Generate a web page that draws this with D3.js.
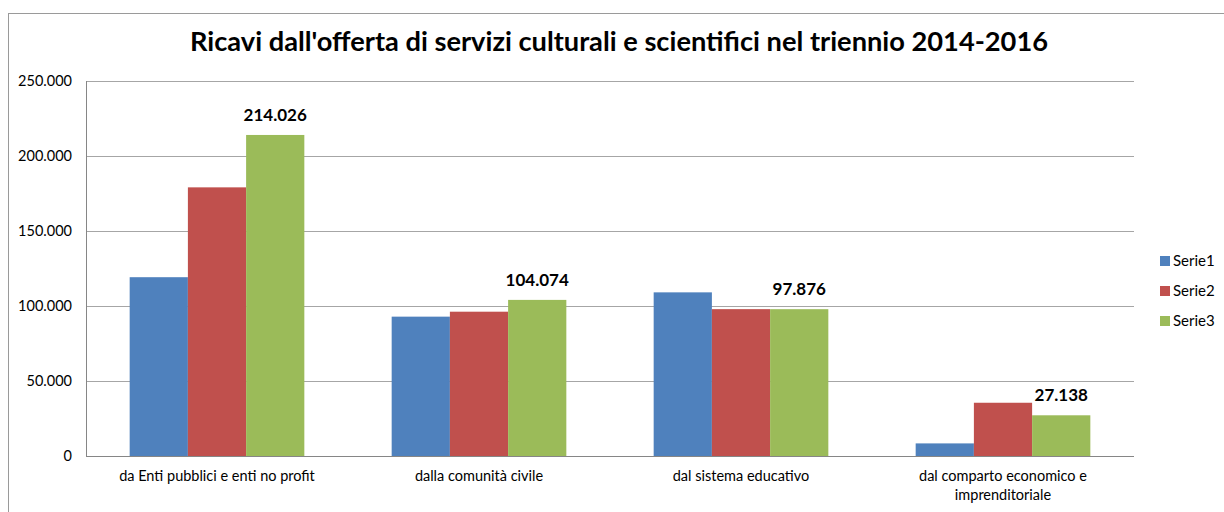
<!DOCTYPE html>
<html>
<head>
<meta charset="utf-8">
<script src="https://cdn.jsdelivr.net/npm/d3@7"></script>
<style>
  body { margin: 0; background: #fff; }
  svg text { font-family: Lato, 'Open Sans', sans-serif; fill: #000; }
</style>
</head>
<body>
<div id="canvas"></div>
<script>
const categories = ['da Enti pubblici e enti no profit', 'dalla comunità civile', 'dal sistema educativo', 'dal comparto economico e imprenditoriale'];
const seriesNames = ['Serie1', 'Serie2', 'Serie3'];
const serie1 = [119200, 92900, 109100, 8400];
const serie2 = [179100, 96200, 97900, 35500];
const serie3 = [214026, 104074, 97876, 27138];
const yTicks = [0, 50000, 100000, 150000, 200000, 250000];
const colors = ['#4F81BD', '#C0504D', '#9BBB59'];

const w = 1224, h = 512;
const margin = { left: 86, top: 81, right: 1134, bottom: 456 };
const fmt = d3.formatLocale({ decimal: ',', thousands: '.', grouping: [3], currency: ['', '€'] }).format(',d');

const svg = d3.select('#canvas').append('svg').attr('width', w).attr('height', h);

// cornice esterna
svg.append('rect')
  .attr('x', 8.5).attr('y', 13.5)
  .attr('width', w).attr('height', h)
  .attr('fill', 'none').attr('stroke', '#9a9a9a');

const x = d3.scaleBand().domain(categories).range([margin.left, margin.right]).padding(0);
// gap width 150% -> 0.75 bar each side
const xs = d3.scaleBand().domain(seriesNames).range([0, x.bandwidth()]).paddingInner(0).paddingOuter(0.75);
const y = d3.scaleLinear().domain([0, 250000]).range([margin.bottom, margin.top]);

// griglia
svg.append('g').selectAll('line').data(yTicks.slice(1)).enter().append('line')
  .attr('x1', margin.left).attr('x2', margin.right)
  .attr('y1', d => Math.round(y(d)) + 0.5).attr('y2', d => Math.round(y(d)) + 0.5)
  .attr('stroke', '#a6a6a6').attr('stroke-width', 1);

// etichette asse y
svg.append('g').selectAll('text').data(yTicks).enter().append('text')
  .attr('x', 72).attr('y', d => y(d) + 5)
  .attr('text-anchor', 'end').style('font-size', '14.5px')
  .text(d => fmt(d));

const data = categories.map((c, i) => ({ cat: c, vals: [serie1[i], serie2[i], serie3[i]] }));

const groups = svg.append('g').selectAll('g').data(data).enter().append('g')
  .attr('transform', d => 'translate(' + x(d.cat) + ',0)');

groups.selectAll('rect').data(d => d.vals.map((v, i) => ({ v: v, s: seriesNames[i], c: i })))
  .enter().append('rect')
  .attr('x', d => xs(d.s))
  .attr('y', d => y(d.v))
  .attr('width', xs.bandwidth())
  .attr('height', d => margin.bottom - y(d.v))
  .attr('fill', d => colors[d.c]);

// etichette dati su Serie3
groups.append('text')
  .attr('x', xs('Serie3') + xs.bandwidth() / 2)
  .attr('y', d => y(d.vals[2]) - 14)
  .attr('text-anchor', 'middle')
  .style('font-size', '17px').style('font-weight', 'bold')
  .text(d => fmt(d.vals[2]));

// assi
svg.append('line').attr('x1', margin.left + 0.5).attr('x2', margin.left + 0.5)
  .attr('y1', margin.top).attr('y2', margin.bottom + 0.5).attr('stroke', '#868686');
svg.append('line').attr('x1', margin.left).attr('x2', margin.right)
  .attr('y1', margin.bottom + 0.5).attr('y2', margin.bottom + 0.5).attr('stroke', '#868686');

// etichette asse x
const xLabelLines = [['da Enti pubblici e enti no profit'], ['dalla comunità civile'], ['dal sistema educativo'], ['dal comparto economico e', 'imprenditoriale']];
svg.append('g').selectAll('text').data(categories).enter().append('text')
  .attr('x', d => x(d) + x.bandwidth() / 2)
  .attr('y', 481)
  .attr('text-anchor', 'middle').style('font-size', '14.5px')
  .each(function(d, i) {
    d3.select(this).selectAll('tspan').data(xLabelLines[i]).enter().append('tspan')
      .attr('x', x(d) + x.bandwidth() / 2)
      .attr('dy', (t, j) => j === 0 ? 0 : 19)
      .text(t => t);
  });

// titolo
svg.append('text')
  .attr('x', 619).attr('y', 51)
  .attr('text-anchor', 'middle')
  .attr('textLength', 858).attr('lengthAdjust', 'spacingAndGlyphs')
  .style('font-size', '26px').style('font-weight', 'bold')
  .text("Ricavi dall'offerta di servizi culturali e scientifici nel triennio 2014-2016");

// legenda
const legend = svg.append('g').attr('transform', 'translate(1160,0)');
seriesNames.forEach((s, i) => {
  legend.append('rect').attr('x', 0).attr('y', 256 + i * 30).attr('width', 10).attr('height', 10).attr('fill', colors[i]);
  legend.append('text').attr('x', 13).attr('y', 266 + i * 30).style('font-size', '15px').text(s);
});
</script>
</body>
</html>
